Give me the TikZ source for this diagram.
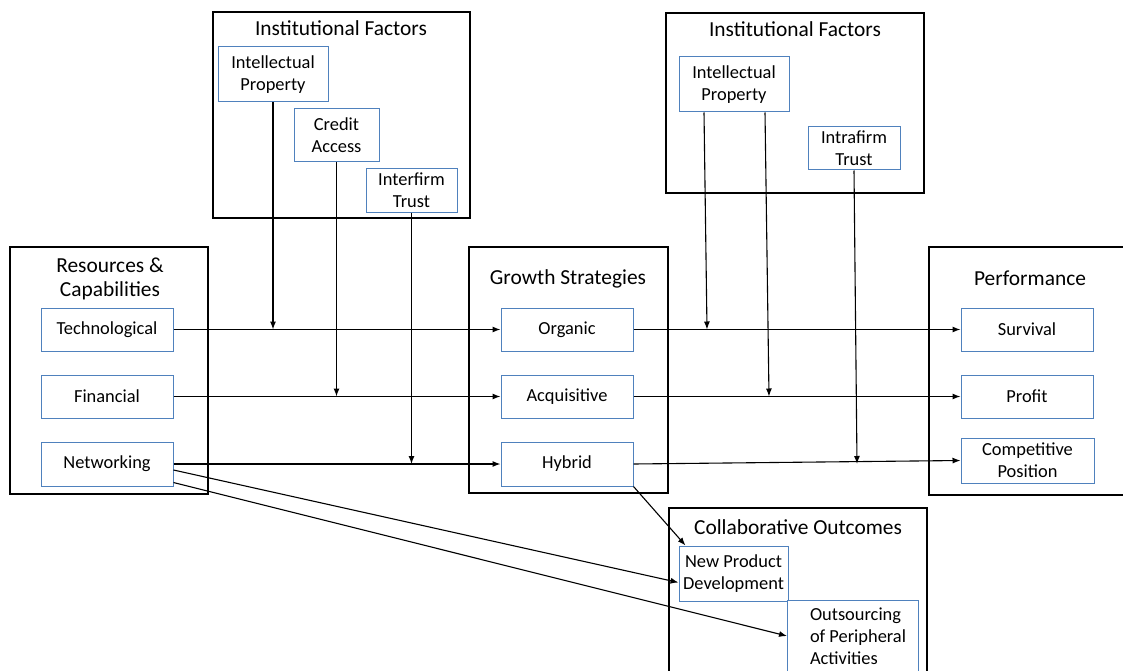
\documentclass[tikz,border=0pt]{standalone}
\usepackage{fontspec}
\setmainfont{Carlito}
\usetikzlibrary{arrows.meta,calc}
\definecolor{boxblue}{HTML}{4F81BD}
\begin{document}
\begin{tikzpicture}[x=1pt,y=-1pt,
  group/.style={draw=black,line width=2pt,inner sep=0pt},
  item/.style={draw=boxblue,line width=1pt,fill=white,align=center,inner sep=0pt,
    font=\fontsize{18.4}{22}\selectfont},
  heading/.style={align=center,inner sep=0pt,font=\fontsize{21.4}{24}\selectfont},
  link/.style={line width=1.1pt,-{Latex[length=8pt,width=6pt]}}]
\clip (0,0) rectangle (1123,671);
\useasboundingbox (0,0) rectangle (1123,671);

% group frames
\node[group,minimum width=257,minimum height=206] (inst1) at (341.5,115) {};
\node[group,minimum width=258,minimum height=180] (inst2) at (795,103) {};
\node[group,minimum width=198,minimum height=247] (res) at (109,370.5) {};
\node[group,minimum width=199,minimum height=246] (growth) at (568.5,370) {};
\node[group,minimum width=210,minimum height=248] (perf) at (1034,371) {};
\node[group,minimum width=258,minimum height=190] (collab) at (798,603) {};

% group headings
\node[heading] (t-inst1) at (341,28) {Institutional Factors};
\node[heading] (t-inst2) at (795,29) {Institutional Factors};
\node[heading] (t-res) at (110,279) {Resources \&\\Capabilities};
\node[heading] (t-growth) at (568,279) {Growth Strategies};
\node[heading] (t-perf) at (1030,278) {Performance};
\node[heading] (t-collab) at (798,527) {Collaborative Outcomes};

% institutional factors
\node[item,minimum width=110,minimum height=55] (ip1) at (273,74.5) {Intellectual\\Property};
\node[item,minimum width=85,minimum height=53] (credit) at (336.5,135.5) {Credit\\Access};
\node[item,minimum width=91,minimum height=43] (inter) at (411.5,190.5) {Interfirm\\Trust};
\node[item,minimum width=110,minimum height=55] (ip2) at (734,84.5) {Intellectual\\Property};
\node[item,minimum width=92,minimum height=43] (intra) at (854,148.5) {Intrafirm\\Trust};

% resources & capabilities
\node[item,minimum width=132,minimum height=43] (tech) at (107,329.5) {Technological};
\node[item,minimum width=132,minimum height=43] (fin) at (107,396.5) {Financial};
\node[item,minimum width=132,minimum height=44] (net) at (107,464) {Networking};

% growth strategies
\node[item,minimum width=132,minimum height=43] (org) at (567,329.5) {Organic};
\node[item,minimum width=132,minimum height=43] (acq) at (567,396.5) {Acquisitive};
\node[item,minimum width=132,minimum height=44] (hyb) at (567,464) {Hybrid};

% performance
\node[item,minimum width=132,minimum height=43] (surv) at (1027,329.5) {Survival};
\node[item,minimum width=132,minimum height=43] (prof) at (1027,396.5) {Profit};
\node[item,minimum width=133,minimum height=45] (comp) at (1027.5,460.5) {Competitive\\Position};

% collaborative outcomes
\node[item,minimum width=109,minimum height=55] (npd) at (733.5,573.5) {New Product\\Development};
\node[item,anchor=north west,minimum width=131,minimum height=76]
  (outs) at (787,600) {\hspace*{10pt}\begin{tabular}{@{}l@{}}Outsourcing\\of Peripheral\\Activities\end{tabular}};

% main causal paths
\draw[link] (tech.east) -- (org.west);
\draw[link] (fin.east) -- (acq.west);
\draw[link] (net.east) -- (hyb.west);
\draw[link] (org.east) -- (surv.west);
\draw[link] (acq.east) -- (prof.west);
\draw[link] (hyb.east) -- (comp.west);

% moderating effects of institutional factors
\coordinate (m1) at (ip1.south |- tech.east);
\coordinate (m2) at (credit.south |- fin.east);
\coordinate (m3) at (inter.south |- net.east);
\coordinate (ip2a) at ($(ip2.south)+(-30,0)$);
\coordinate (ip2b) at ($(ip2.south)+(31,0)$);
\coordinate (m4) at ($(ip2a |- org.east)+(3,0)$);
\coordinate (m5) at ($(ip2b |- acq.east)+(4,0)$);
\coordinate (m6) at ($(intra.south |- hyb.east)+(3,0)$);
\draw[link] (ip1.south) -- (m1);
\draw[link] (credit.south) -- (m2);
\draw[link] (inter.south) -- (m3);
\draw[link] (ip2a) -- (m4);
\draw[link] (ip2b) -- (m5);
\draw[link] (intra.south) -- (m6);

% collaborative outcomes
\draw[link] (hyb.south east) -- ($(npd.north west)+(7,0)$);
\draw[link] ($(net.east)+(0,6)$) -- ($(npd.west)+(0,9)$);
\draw[link] ($(net.south east)+(0,-4)$) -- ($(outs.north west)+(0,36)$);
\end{tikzpicture}
\end{document}
